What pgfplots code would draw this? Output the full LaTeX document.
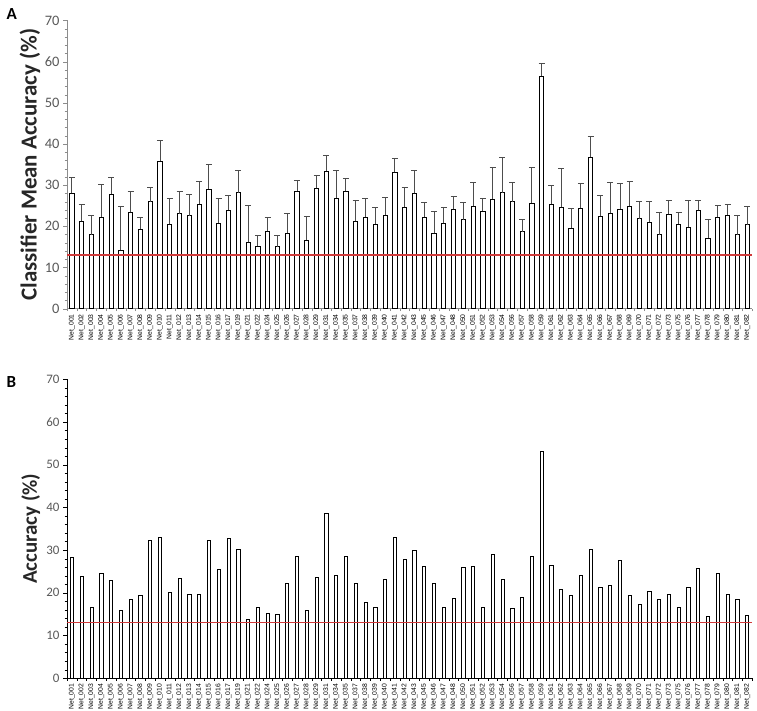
\documentclass[border=0pt]{standalone}
\usepackage{pgfplots}
\pgfplotsset{compat=1.18}
\usepackage{pgfplotstable}
\usepackage{fontspec}
\setmainfont{Carlito}
\newfontfamily\lab{Liberation Sans}
\definecolor{tickgray}{HTML}{595959}
\definecolor{axgray}{HTML}{8C8C8C}
\definecolor{errgray}{HTML}{4D4D4D}
\definecolor{redline}{HTML}{D03A3A}

\pgfplotstableread{
x val err
0 28.0 4.0
1 21.2 4.1
2 18.0 4.7
3 22.3 7.9
4 27.8 4.2
5 14.2 10.7
6 23.4 5.2
7 19.3 2.9
8 26.0 3.5
9 35.8 5.1
10 20.5 6.3
11 23.1 5.3
12 22.6 5.2
13 25.4 5.4
14 29.1 5.9
15 20.8 6.1
16 24.0 3.4
17 28.2 5.4
18 16.1 9.0
19 15.2 2.7
20 18.8 3.4
21 15.1 2.6
22 18.3 4.9
23 28.5 2.7
24 16.7 5.6
25 29.2 3.2
26 33.4 3.9
27 26.9 6.7
28 28.5 3.1
29 21.2 5.1
30 22.3 4.4
31 20.6 3.9
32 22.7 4.3
33 33.1 3.5
34 24.7 4.8
35 28.1 5.5
36 22.3 3.5
37 18.3 5.3
38 20.7 3.9
39 24.1 3.2
40 21.6 4.2
41 24.9 5.8
42 23.7 3.2
43 26.6 7.8
44 28.2 8.6
45 26.0 4.7
46 18.7 3.1
47 25.7 8.7
48 56.5 3.2
49 25.4 4.5
50 24.6 9.4
51 19.6 4.8
52 24.4 6.1
53 36.8 5.0
54 22.4 5.1
55 23.2 7.5
56 24.1 6.4
57 24.9 6.0
58 21.9 4.2
59 21.0 5.1
60 18.0 5.5
61 22.9 3.4
62 20.6 2.9
63 19.8 6.5
64 23.9 2.4
65 17.2 4.6
66 22.2 2.9
67 22.7 2.7
68 18.0 4.6
69 20.4 4.4
}\dataA

\pgfplotstableread{
x val
0 28.2
1 23.9
2 16.7
3 24.6
4 22.8
5 16.0
6 18.4
7 19.3
8 32.2
9 33.1
10 20.0
11 23.3
12 19.6
13 19.6
14 32.4
15 25.5
16 32.7
17 30.1
18 13.7
19 16.7
20 15.3
21 14.9
22 22.1
23 28.5
24 15.9
25 23.7
26 38.6
27 24.0
28 28.5
29 22.2
30 17.7
31 16.5
32 23.2
33 33.1
34 27.8
35 30.0
36 26.3
37 22.1
38 16.6
39 18.7
40 26.0
41 26.1
42 16.7
43 29.1
44 23.1
45 16.4
46 18.9
47 28.5
48 53.1
49 26.5
50 20.8
51 19.4
52 24.1
53 30.2
54 21.3
55 21.7
56 27.5
57 19.3
58 17.3
59 20.3
60 18.5
61 19.7
62 16.5
63 21.3
64 25.7
65 14.5
66 24.5
67 19.6
68 18.5
69 14.7
}\dataB

\pgfplotstableread{
x val
-0.5 13
69.5 13
}\chance

\pgfplotsset{
  netlabels/.style={xticklabels={Net\_001,Net\_002,Net\_003,Net\_004,Net\_005,Net\_006,Net\_007,Net\_008,Net\_009,Net\_010,Net\_011,Net\_012,Net\_013,Net\_014,Net\_015,Net\_016,Net\_017,Net\_019,Net\_021,Net\_022,Net\_024,Net\_025,Net\_026,Net\_027,Net\_028,Net\_029,Net\_031,Net\_034,Net\_035,Net\_037,Net\_038,Net\_039,Net\_040,Net\_041,Net\_042,Net\_043,Net\_045,Net\_046,Net\_047,Net\_048,Net\_050,Net\_051,Net\_052,Net\_053,Net\_054,Net\_056,Net\_057,Net\_058,Net\_059,Net\_061,Net\_062,Net\_063,Net\_064,Net\_065,Net\_066,Net\_067,Net\_068,Net\_069,Net\_070,Net\_071,Net\_072,Net\_073,Net\_075,Net\_076,Net\_077,Net\_078,Net\_079,Net\_080,Net\_081,Net\_082}},
  common/.style={
    scale only axis, width=685bp,
    xmin=-0.5, xmax=69.5, ymin=0, ymax=70,
    axis lines*=left,
    xtick={0,...,69}, netlabels,
    minor xtick={-0.5,0.5,...,69.5},
    ytick={0,10,...,70}, minor y tick num=4,
    tick align=outside,
    major tick length=4bp, minor tick length=2.5bp,
    major x tick style={draw=none},
    x tick label style={font=\lab\fontsize{6.8}{6.8}\selectfont, rotate=90, anchor=east, inner sep=1.5bp},
    /pgf/number format/assume math mode=true,
    clip=false,
  },
}

\begin{document}
\begin{tikzpicture}
\path[use as bounding box] (0,0) rectangle (757bp,711bp);
% Panel A
\begin{axis}[common,
  at={(67bp,402.3bp)}, anchor=south west, height=288.2bp,
  x axis line style={draw=axgray},
  y axis line style={draw=axgray},
  y tick style={draw=axgray},
  minor x tick style={draw=axgray},
  y tick label style={font=\fontsize{14.5}{14.5}\selectfont, text=tickgray},
  ylabel={\bfseries Classifier Mean Accuracy (\%)},
  ylabel style={font=\fontsize{23}{23}\selectfont, text=black!85, at={(axis description cs:-0.054,0.5)}, anchor=center},
]
\addplot[ybar, bar width=4.2bp, draw=black, line width=0.75pt, fill=white,
  error bars/.cd, y dir=plus, y explicit,
  error mark options={draw=errgray, line width=0.8pt, mark size=3bp, rotate=90},
  error bar style={draw=errgray, line width=0.8pt}]
  table[x=x, y=val, y error=err]{\dataA};
\addplot[draw=redline, mark=none, solid, line width=1.5bp] table[x=x, y=val]{\chance};
\end{axis}
\node[font=\bfseries\fontsize{17}{17}\selectfont, anchor=north west] at (3bp,706bp) {A};
% Panel B
\begin{axis}[common,
  at={(67bp,32.8bp)}, anchor=south west, height=298.9bp,
  axis line style={black},
  y tick style={black},
  minor x tick style={black},
  y tick label style={font=\fontsize{13}{13}\selectfont, text=tickgray},
  ylabel={\bfseries Accuracy (\%)},
  ylabel style={font=\fontsize{21}{21}\selectfont, text=black!85, at={(axis description cs:-0.053,0.5)}, anchor=center},
]
\addplot[ybar, bar width=3.2bp, draw=black, line width=0.7pt, fill=white]
  table[x=x, y=val]{\dataB};
\addplot[draw=redline, mark=none, solid, line width=1.3bp] table[x=x, y=val]{\chance};
\end{axis}
\node[font=\bfseries\fontsize{17}{17}\selectfont, anchor=north west] at (3bp,338bp) {B};
\end{tikzpicture}
\end{document}
